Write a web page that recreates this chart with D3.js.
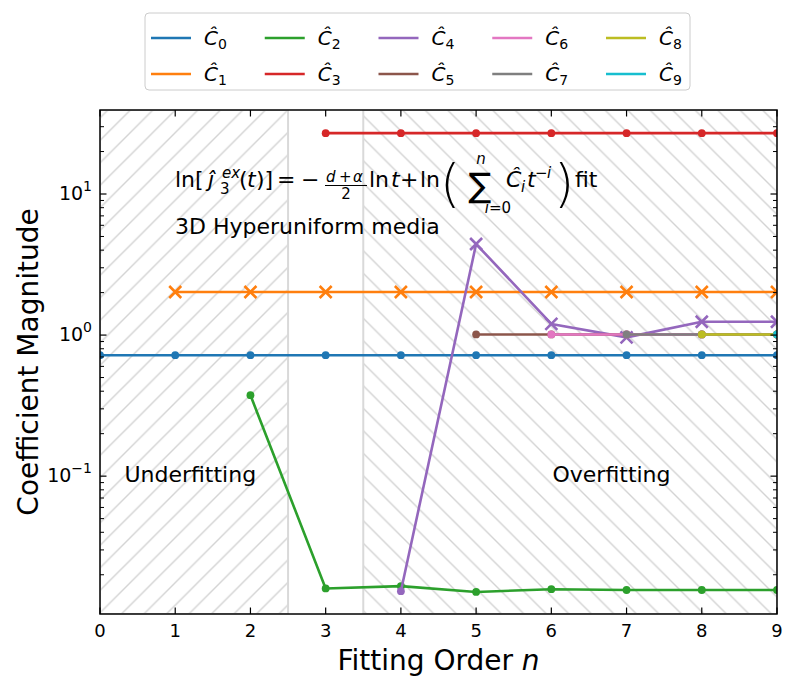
<!DOCTYPE html>
<html><head><meta charset="utf-8">
<script src="https://cdn.jsdelivr.net/npm/d3@7"></script>
<style>
body{margin:0;background:#fff}
text{font-family:"DejaVu Sans",sans-serif;fill:#000}
</style>
</head><body>
<svg id="chart" width="797" height="691"></svg>
<script>
// ---------------- data ----------------
const xTicks = [0,1,2,3,4,5,6,7,8,9];
const yMajorTicks = [0.1, 1, 10];
const yMajorExp = ["\u22121", "0", "1"];
const seriesNames = ["0","1","2","3","4","5","6","7","8","9"];
const seriesStart = [0,1,2,3,4,5,6,7,8,9];      // first fitting order n of each series
// signed coefficient values (negative ones drawn with an x marker)
const C0 = [0.72,0.72,0.72,0.72,0.72,0.72,0.72,0.72,0.72,0.72];
const C1 = [-2.02,-2.02,-2.02,-2.02,-2.02,-2.02,-2.02,-2.02,-2.02];
const C2 = [0.375,0.0160,0.0166,0.0151,0.0158,0.0156,0.0156,0.0156];
const C3 = [27.0,27.0,27.0,27.0,27.0,27.0,27.0];
const C4 = [0.0153,-4.42,-1.20,-0.963,-1.243,-1.243];
const C5 = [1.01,1.01,1.01,1.01,1.01];
const C6 = [1.01,1.01,1.01,1.01];
const C7 = [1.01,1.01,1.01];
const C8 = [1.01,1.01];
const C9 = [1.01];
const seriesValues = [C0,C1,C2,C3,C4,C5,C6,C7,C8,C9];
const colors = ["#1f77b4","#ff7f0e","#2ca02c","#d62728","#9467bd","#8c564b","#e377c2","#7f7f7f","#bcbd22","#17becf"];
const regions = [{x0:0, x1:2.5, hatch:"fwd"}, {x0:3.5, x1:9, hatch:"back"}];
const regionLabels = [{x:1.2, y:0.0905, text:"Underfitting"}, {x:6.8, y:0.0905, text:"Overfitting"}];

// ---------------- layout ----------------
const L = 100, R = 777, T = 110, B = 614;
const svg = d3.select("#chart");
const x = d3.scaleLinear().domain([0,9]).range([L,R]);
const y = d3.scaleLog().domain([0.01054, 39.4]).range([B,T]);

const defs = svg.append("defs");
const P = 22.5;
const hatchColor = "#d3d3d3";
const pf = defs.append("pattern").attr("id","hfwd").attr("patternUnits","userSpaceOnUse")
  .attr("width",P).attr("height",P).attr("x",15.4).attr("y",0);
pf.append("path").attr("d",`M0,${P}L${P},0M${-P/2},${P/2}L${P/2},${-P/2}M${P/2},${1.5*P}L${1.5*P},${P/2}`)
  .attr("stroke",hatchColor).attr("stroke-width",1.4);
const pb = defs.append("pattern").attr("id","hback").attr("patternUnits","userSpaceOnUse")
  .attr("width",P).attr("height",P).attr("x",0).attr("y",0);
pb.append("path").attr("d",`M0,0L${P},${P}M${-P/2},${P/2}L${P/2},${1.5*P}M${P/2},${-P/2}L${1.5*P},${P/2}`)
  .attr("stroke",hatchColor).attr("stroke-width",1.4);
defs.append("clipPath").attr("id","clip").append("rect")
  .attr("x",L).attr("y",T).attr("width",R-L).attr("height",B-T);

const plot = svg.append("g").attr("clip-path","url(#clip)");
plot.selectAll("rect.region").data(regions).join("rect").attr("class","region")
  .attr("x",d=>x(d.x0)).attr("y",T).attr("width",d=>x(d.x1)-x(d.x0)).attr("height",B-T)
  .attr("fill",d=>d.hatch==="fwd"?"url(#hfwd)":"url(#hback)")
  .attr("stroke","#d9d9d9").attr("stroke-width",2);

svg.selectAll("text.rl").data(regionLabels).join("text").attr("class","rl")
  .attr("x",d=>x(d.x)).attr("y",d=>y(d.y)).attr("text-anchor","middle")
  .attr("font-size",22).text(d=>d.text);

// series
const series = seriesValues.map((vals,i)=>vals.map((v,j)=>({n:seriesStart[i]+j, v:v})));
const line = d3.line().x(d=>x(d.n)).y(d=>y(Math.abs(d.v)));
series.forEach((pts,i)=>{
  const g = plot.append("g");
  g.append("path").datum(pts).attr("d",line).attr("fill","none")
    .attr("stroke",colors[i]).attr("stroke-width",2.6).attr("stroke-linejoin","round");
  g.selectAll("circle").data(pts.filter(d=>d.v>0)).join("circle")
    .attr("cx",d=>x(d.n)).attr("cy",d=>y(Math.abs(d.v))).attr("r",3.9).attr("fill",colors[i]);
  const s = 6;
  g.selectAll("path.xm").data(pts.filter(d=>d.v<0)).join("path").attr("class","xm")
    .attr("d",d=>{const cx=x(d.n), cy=y(Math.abs(d.v));
      return `M${cx-s},${cy-s}L${cx+s},${cy+s}M${cx-s},${cy+s}L${cx+s},${cy-s}`;})
    .attr("stroke",colors[i]).attr("stroke-width",2.6).attr("fill","none");
});

// annotation formula
const ann = svg.append("g").attr("font-size",22);
const base = 187;
function t(xp, yp, str, opts={}) {
  const el = ann.append("text").attr("x",xp).attr("y",yp).text(str);
  if (opts.size) el.attr("font-size",opts.size);
  if (opts.italic) el.attr("font-style","italic");
  if (opts.anchor) el.attr("text-anchor",opts.anchor);
  if (opts.weight) el.attr("font-weight",opts.weight);
  return el;
}
t(175, base, "ln[");
t(208, base, "\u0237\u0302", {italic:true});
t(220, base+7, "3", {size:15});
t(222, base-9, "ex", {size:15, italic:true});
t(239, base, "(");
t(247, base, "t", {italic:true});
t(256, base, ")]");
t(277, base, "=");
t(301, base, "\u2212");
t(326, base-5, "d", {size:15, italic:true});
t(339, base-5, "+", {size:15});
t(353, base-5, "\u03b1", {size:15, italic:true});
ann.append("line").attr("x1",325).attr("x2",367).attr("y1",base-1.5).attr("y2",base-1.5).attr("stroke","#000").attr("stroke-width",1);
t(346, base+12, "2", {size:15, anchor:"middle"});
t(369, base, "ln");
t(391, base, "t", {italic:true});
t(400, base, "+");
t(420, base, "ln");
t(440, base+14, "(", {size:52, weight:"200"});
t(480, base+10, "\u2211", {size:34, anchor:"middle"});
t(481, base-23, "n", {size:15, italic:true, anchor:"middle"});
t(489, base+26, "i", {size:15, italic:true, anchor:"end"});
t(489, base+26, "=0", {size:15});
t(506, base, "C\u0302", {italic:true});
t(521, base+5, "i", {size:15, italic:true});
t(527, base, "t", {italic:true});
t(535, base-9, "\u2212", {size:15});
t(547, base-9, "i", {size:15, italic:true});
t(554, base+14, ")", {size:52, weight:"200"});
t(575, base, "fit");
t(175, 234, "3D Hyperuniform media");

// spines
svg.append("rect").attr("x",L).attr("y",T).attr("width",R-L).attr("height",B-T)
  .attr("fill","none").attr("stroke","#000").attr("stroke-width",1.5);

const axG = svg.append("g").attr("stroke","#000").attr("stroke-width",1.2);
xTicks.forEach(v=>{
  axG.append("line").attr("x1",x(v)).attr("x2",x(v)).attr("y1",B).attr("y2",B-6.5);
  axG.append("line").attr("x1",x(v)).attr("x2",x(v)).attr("y1",T).attr("y2",T+6.5);
});
svg.selectAll("text.xt").data(xTicks).join("text").attr("class","xt")
  .attr("x",d=>x(d)).attr("y",B+23).attr("text-anchor","middle").attr("font-size",18).text(d=>d);

const yMinor = [];
[-2,-1,0,1].forEach(e=>{for(let k=2;k<=9;k++){const v=k*Math.pow(10,e); if(v>=y.domain()[0]&&v<=y.domain()[1]) yMinor.push(v);}});
yMajorTicks.forEach(v=>{
  axG.append("line").attr("x1",L).attr("x2",L+6.5).attr("y1",y(v)).attr("y2",y(v));
  axG.append("line").attr("x1",R).attr("x2",R-6.5).attr("y1",y(v)).attr("y2",y(v));
});
yMinor.forEach(v=>{
  axG.append("line").attr("x1",L).attr("x2",L+4).attr("y1",y(v)).attr("y2",y(v)).attr("stroke-width",1);
  axG.append("line").attr("x1",R).attr("x2",R-4).attr("y1",y(v)).attr("y2",y(v)).attr("stroke-width",1);
});
const ytl = svg.selectAll("text.yt").data(yMajorTicks).join("text").attr("class","yt")
  .attr("x",L-8).attr("y",d=>y(d)+6).attr("text-anchor","end").attr("font-size",19);
ytl.append("tspan").text("10");
ytl.append("tspan").attr("dy",-9).attr("font-size",14).text((d,i)=>yMajorExp[i]);

// axis labels
const xl = svg.append("text").attr("x",(L+R)/2).attr("y",670).attr("text-anchor","middle").attr("font-size",28);
xl.append("tspan").text("Fitting Order ");
xl.append("tspan").attr("font-style","italic").text("n");
svg.append("text").attr("transform",`translate(38,${(T+B)/2}) rotate(-90)`)
  .attr("text-anchor","middle").attr("font-size",28).text("Coefficient Magnitude");

// legend
const lg = svg.append("g");
lg.append("rect").attr("x",145).attr("y",13).attr("width",545).attr("height",77).attr("rx",4)
  .attr("fill","#fff").attr("fill-opacity",0.8).attr("stroke","#cccccc").attr("stroke-width",1);
seriesNames.forEach((nm,i)=>{
  const col = Math.floor(i/2), row = i%2;
  const lx = 151 + col*113.75, ly = 38 + row*36;
  lg.append("line").attr("x1",lx).attr("x2",lx+40).attr("y1",ly).attr("y2",ly)
    .attr("stroke",colors[i]).attr("stroke-width",2.6);
  const tx = lg.append("text").attr("x",lx+53).attr("y",ly+7).attr("font-size",20);
  tx.append("tspan").attr("font-style","italic").text("C\u0302");
  tx.append("tspan").attr("dy",4).attr("font-size",14).text(nm);
});
</script>
</body></html>
